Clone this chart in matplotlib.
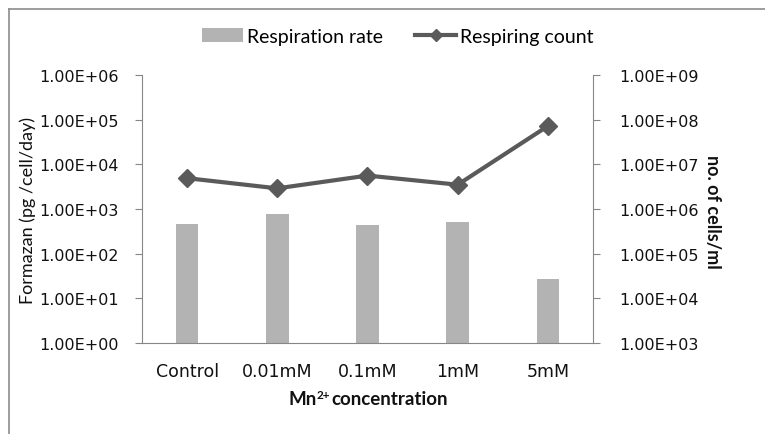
import matplotlib
matplotlib.use("Agg")
import matplotlib.pyplot as plt
from matplotlib.lines import Line2D
from matplotlib.patches import Patch
import numpy as np

categories = ["Control", "0.01mM", "0.1mM", "1mM", "5mM"]
respiration_rate = [460, 780, 440, 510, 27]          # left axis, Formazan pg/cell/day
respiring_count = [4.9e6, 2.9e6, 5.6e6, 3.5e6, 7.2e7]  # right axis, cells/ml
left_ticks = [1e0, 1e1, 1e2, 1e3, 1e4, 1e5, 1e6]
left_ticklabels = ["1.00E+00", "1.00E+01", "1.00E+02", "1.00E+03", "1.00E+04", "1.00E+05", "1.00E+06"]
right_ticks = [1e3, 1e4, 1e5, 1e6, 1e7, 1e8, 1e9]
right_ticklabels = ["1.00E+03", "1.00E+04", "1.00E+05", "1.00E+06", "1.00E+07", "1.00E+08", "1.00E+09"]

W, H = 765, 435
fig = plt.figure(figsize=(W / 100, H / 100), dpi=100)
ax = fig.add_axes([142 / W, 1 - 344 / H, (593 - 142) / W, (344 - 76) / H])
ax2 = ax.twinx()

bar_color = "#b3b3b3"
line_color = "#5a5a5a"
axis_color = "#868686"

x = np.arange(len(categories))
ax.bar(x, respiration_rate, width=0.25, color=bar_color, zorder=2)
ax.set_yscale("log")
ax.set_ylim(1, 1e6)
ax.set_xlim(-0.5, len(categories) - 0.5)
ax.set_yticks(left_ticks)
ax.set_yticklabels(left_ticklabels)
ax.yaxis.set_minor_locator(matplotlib.ticker.NullLocator())
ax.set_xticks(x)
ax.set_xticklabels(categories)

ax2.plot(x, respiring_count, color=line_color, lw=3, marker="D", ms=9, zorder=3)
ax2.set_yscale("log")
ax2.set_ylim(1e3, 1e9)
ax2.set_yticks(right_ticks)
ax2.set_yticklabels(right_ticklabels)
ax2.yaxis.set_minor_locator(matplotlib.ticker.NullLocator())

for a in (ax, ax2):
    for s in a.spines.values():
        s.set_color(axis_color)
    a.spines["top"].set_visible(False)
ax.spines["right"].set_visible(False)
ax2.spines["left"].set_visible(False)
ax2.spines["bottom"].set_visible(False)

ax.tick_params(axis="y", length=5, color=axis_color, labelsize=11.5, pad=12, labelcolor="#111111")
ax.tick_params(axis="x", length=0, labelsize=12.5, pad=14, labelcolor="#111111")
ax2.tick_params(axis="y", length=5, color=axis_color, labelsize=11.5, pad=14, labelcolor="#111111")
for lab in ax.get_yticklabels() + ax.get_xticklabels() + ax2.get_yticklabels():
    lab.set_family("DejaVu Sans")

fig.text(28 / W, 1 - 210 / H, "Formazan (pg /cell/day)", rotation=90, ha="center", va="center",
         family="Lato", fontsize=13, color="#111111")
fig.text(712 / W, 1 - 212 / H, "no. of cells/ml", rotation=270, ha="center", va="center",
         family="Lato", fontsize=13, fontweight="bold", color="#111111")

# x-axis title with manual superscript: "Mn" + "2+" + "concentration"
renderer = fig.canvas.get_renderer()
parts = [("Mn", 13.5, 0), ("2+", 8.5, 6), ("concentration", 13.5, 0)]
gaps = [0.0, 0.5]
base_y = 1 - 405 / H
tmp = []
for txt, fs, dy in parts:
    t = fig.text(0, base_y, txt, ha="left", va="baseline", family="Lato", fontsize=fs,
                 fontweight="bold", color="#111111")
    tmp.append((t, dy))
widths = [t.get_window_extent(renderer).width for t, _ in tmp]
total = sum(widths) + sum(gaps)
cur = 368 - total / 2
for i, ((t, dy), w) in enumerate(zip(tmp, widths)):
    t.set_position((cur / W, base_y + dy / H))
    cur += w + (gaps[i] if i < len(gaps) else 0)

handles = [Patch(facecolor=bar_color, edgecolor="none"),
           Line2D([0], [0], color=line_color, lw=3, marker="D", ms=6)]
fig.legend(handles, ["Respiration rate", "Respiring count"], loc="center",
           bbox_to_anchor=(398 / W, 1 - 37 / H), ncol=2, frameon=False,
           prop={"family": "Lato", "size": 14}, handlelength=2.1, handletextpad=0.2,
           columnspacing=1.65, borderpad=0.2)

# outer chart border (clipped on right/bottom as in the reference)
fig.add_artist(Line2D([9 / W, 1.0], [1 - 10 / H, 1 - 10 / H], color="#8c8c8c", lw=1.2))
fig.add_artist(Line2D([9 / W, 9 / W], [0.0, 1 - 10 / H], color="#8c8c8c", lw=1.2))

fig.savefig("out.png", dpi=100)
